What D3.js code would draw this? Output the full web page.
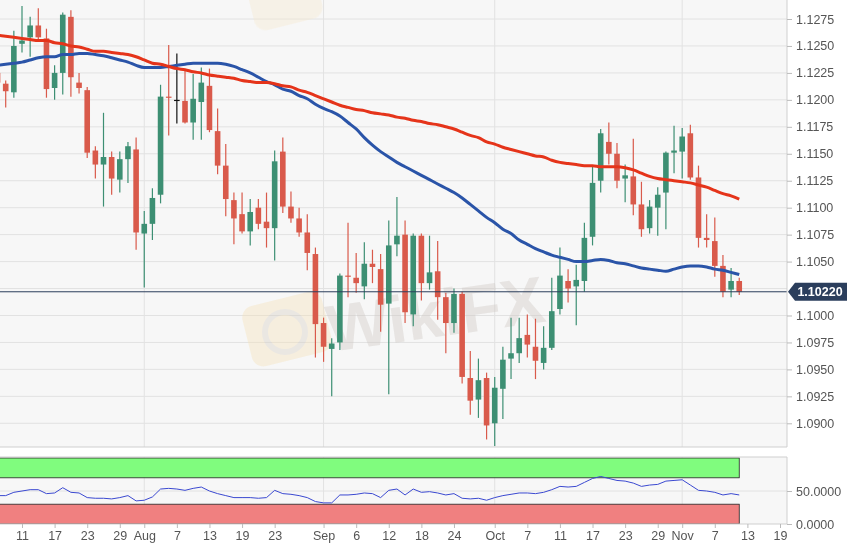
<!DOCTYPE html>
<meta charset="utf-8">
<script src="https://d3js.org/d3.v7.min.js"></script>
<style>
  body { margin: 0; background: #fff; }
  text { font-family: "Liberation Sans", Arial, sans-serif; }
</style>
<body>
<div id="canvas"></div>
<script>

// EUR/USD daily, 8 Jul 2019 .. 12 Nov 2019 (one entry per trading day)
var dates = ["07-08","07-09","07-10",
  "07-11","07-12","07-15","07-16","07-17","07-18","07-19","07-22","07-23","07-24",
  "07-25","07-26","07-29","07-30","07-31","08-01","08-02","08-05","08-06","08-07",
  "08-08","08-09","08-12","08-13","08-14","08-15","08-16","08-19","08-20","08-21",
  "08-22","08-23","08-26","08-27","08-28","08-29","08-30","09-02","09-03","09-04",
  "09-05","09-06","09-09","09-10","09-11","09-12","09-13","09-16","09-17","09-18",
  "09-19","09-20","09-23","09-24","09-25","09-26","09-27","09-30","10-01","10-02",
  "10-03","10-04","10-07","10-08","10-09","10-10","10-11","10-14","10-15","10-16",
  "10-17","10-18","10-21","10-22","10-23","10-24","10-25","10-28","10-29","10-30",
  "10-31","11-01","11-04","11-05","11-06","11-07","11-08","11-11","11-12"];

var opens = [1.1225,1.1215,1.1207,
  1.1252,1.1258,1.1269,1.1257,1.1211,1.1225,1.1277,1.1216,1.1209,1.1153,
  1.1140,1.1147,1.1126,1.1145,1.1154,1.1076,1.1085,1.1112,1.1203,1.1200,
  1.1199,1.1179,1.1198,1.1213,1.1171,1.1139,1.1107,1.1094,1.1078,1.1100,
  1.1087,1.1081,1.1152,1.1101,1.1090,1.1077,1.1057,1.0993,1.0969,1.0975,
  1.1037,1.1035,1.1027,1.1048,1.1043,1.1011,1.1066,1.1075,1.1001,1.1074,
  1.1030,1.1041,1.1017,1.0993,1.1020,1.0942,1.0922,1.0942,1.0900,1.0932,
  1.0960,1.0965,1.0982,1.0971,1.0956,1.0970,1.1006,1.1032,1.1027,1.1032,
  1.1073,1.1125,1.1161,1.1150,1.1127,1.1129,1.1103,1.1081,1.1100,1.1114,
  1.1151,1.1152,1.1169,1.1128,1.1072,1.1069,1.1046,1.1024,1.1032];

var highs = [1.1230,1.1218,1.1264,
  1.1287,1.1277,1.1285,1.1266,1.1232,1.1281,1.1283,1.1225,1.1212,1.1157,
  1.1188,1.1152,1.1152,1.1161,1.1165,1.1097,1.1118,1.1214,1.1251,1.1243,
  1.1228,1.1224,1.1230,1.1229,1.1192,1.1159,1.1114,1.1114,1.1108,1.1108,
  1.1114,1.1153,1.1165,1.1115,1.1100,1.1094,1.1063,1.0998,1.0979,1.1039,
  1.1086,1.1058,1.1068,1.1061,1.1057,1.1088,1.1110,1.1088,1.1076,1.1076,
  1.1074,1.1069,1.1021,1.1025,1.1022,1.0967,1.0960,1.0947,1.0943,1.0971,
  1.0998,1.0998,1.1001,1.0997,1.0990,1.1035,1.1063,1.1043,1.1047,1.1086,
  1.1138,1.1173,1.1179,1.1160,1.1140,1.1164,1.1124,1.1107,1.1119,1.1152,
  1.1176,1.1174,1.1177,1.1139,1.1094,1.1091,1.1056,1.1044,1.1035];

var lows = [1.1207,1.1193,1.1202,
  1.1244,1.1240,1.1256,1.1202,1.1200,1.1205,1.1203,1.1206,1.1146,1.1127,
  1.1101,1.1112,1.1114,1.1123,1.1061,1.1026,1.1070,1.1104,1.1167,1.1178,
  1.1178,1.1163,1.1163,1.1170,1.1131,1.1092,1.1066,1.1076,1.1065,1.1080,
  1.1063,1.1051,1.1095,1.1086,1.1073,1.1042,1.0961,1.0957,1.0925,1.0968,
  1.1017,1.1021,1.1015,1.1030,1.0985,1.0927,1.1055,1.0993,1.0990,1.1014,
  1.1024,1.0996,1.0965,1.0984,1.0937,1.0908,1.0905,1.0885,1.0879,1.0904,
  1.0941,1.0956,1.0961,1.0941,1.0950,1.0968,1.1001,1.1012,1.0991,1.1022,
  1.1065,1.1114,1.1140,1.1118,1.1105,1.1093,1.1073,1.1076,1.1074,1.1080,
  1.1132,1.1127,1.1126,1.1063,1.1063,1.1036,1.1017,1.1017,1.1019];

var closes = [1.1216,1.1208,1.1250,
  1.1255,1.1269,1.1258,1.1210,1.1225,1.1279,1.1221,1.1211,1.1151,1.1140,
  1.1147,1.1127,1.1145,1.1157,1.1077,1.1085,1.1109,1.1203,1.1202,1.1200,
  1.1179,1.1201,1.1216,1.1172,1.1139,1.1108,1.1090,1.1078,1.1096,1.1085,
  1.1081,1.1143,1.1101,1.1090,1.1077,1.1058,1.0992,1.0971,1.0974,1.1037,
  1.1036,1.1030,1.1048,1.1045,1.1010,1.1065,1.1074,1.1003,1.1074,1.1030,
  1.1040,1.1017,1.0993,1.1020,1.0943,1.0921,1.0940,1.0898,1.0933,1.0959,
  1.0965,1.0979,1.0973,1.0958,1.0970,1.1004,1.1037,1.1025,1.1033,1.1072,
  1.1123,1.1169,1.1150,1.1125,1.1130,1.1103,1.1080,1.1101,1.1112,1.1151,
  1.1153,1.1166,1.1128,1.1072,1.1070,1.1046,1.1022,1.1032,1.1022];

// moving averages (blue = faster, red = slower)
var maFast = [1.1232,1.1233,1.1234,
  1.1235,1.1237,1.1239,1.1240,1.1240,1.1242,1.1242,1.1243,1.1243,1.1242,
  1.1241,1.1239,1.1237,1.1235,1.1232,1.1230,1.1230,1.1230,1.1231,1.1232,
  1.1233,1.1234,1.1234,1.1234,1.1234,1.1233,1.1231,1.1228,1.1225,1.1221,
  1.1217,1.1214,1.1210,1.1208,1.1204,1.1201,1.1196,1.1192,1.1189,1.1185,
  1.1179,1.1173,1.1165,1.1158,1.1152,1.1147,1.1142,1.1138,1.1134,1.1130,
  1.1126,1.1122,1.1118,1.1114,1.1109,1.1103,1.1097,1.1091,1.1086,1.1080,
  1.1076,1.1070,1.1066,1.1062,1.1059,1.1056,1.1054,1.1052,1.1050,1.1050,
  1.1051,1.1052,1.1051,1.1049,1.1048,1.1046,1.1044,1.1043,1.1042,1.1041,
  1.1043,1.1045,1.1046,1.1046,1.1045,1.1043,1.1042,1.1040,1.1038];

var maSlow = [1.1260,1.1259,1.1258,
  1.1257,1.1256,1.1255,1.1255,1.1253,1.1252,1.1250,1.1249,1.1247,1.1245,
  1.1245,1.1244,1.1243,1.1242,1.1240,1.1237,1.1234,1.1233,1.1231,1.1229,
  1.1228,1.1226,1.1225,1.1223,1.1222,1.1221,1.1220,1.1218,1.1217,1.1216,
  1.1216,1.1215,1.1213,1.1212,1.1209,1.1207,1.1204,1.1201,1.1198,1.1195,
  1.1193,1.1191,1.1190,1.1188,1.1187,1.1186,1.1184,1.1183,1.1181,1.1180,
  1.1178,1.1177,1.1175,1.1173,1.1170,1.1167,1.1165,1.1161,1.1159,1.1156,
  1.1154,1.1152,1.1150,1.1148,1.1147,1.1144,1.1142,1.1141,1.1140,1.1139,
  1.1139,1.1138,1.1138,1.1138,1.1137,1.1135,1.1132,1.1129,1.1127,1.1126,
  1.1125,1.1124,1.1123,1.1121,1.1119,1.1116,1.1113,1.1111,1.1108];

// oscillator in the lower panel
var rsi = [43,43,48,
  50,52,52,46,47,55,48,47,40,39,
  39,38,40,43,35,36,41,53,54,53,
  51,54,56,50,46,43,40,40,40,39,
  40,51,46,45,43,40,34,32,32,44,
  44,45,47,46,40,51,53,44,53,48,
  49,47,44,46,39,38,39,36,40,43,
  45,47,47,46,48,52,57,56,57,63,
  69,72,69,66,65,62,57,59,60,65,
  66,67,59,51,50,48,44,46,44];

var firstDay = -3;            // 8 Jul sits three trading days before 11 Jul
var lastPrice = 1.10220;

var priceTicks = [1.0900,1.0925,1.0950,1.0975,1.1000,1.1025,1.1050,1.1075,
                  1.1100,1.1125,1.1150,1.1175,1.1200,1.1225,1.1250,1.1275];
var rsiTicks = [0, 50];
var dayTicks = [0,4,8,12,15,19,23,27,31,37,41,45,49,53,58,62,66,70,74,78,81,85,89,93];
var dayLabels = ["11","17","23","29","Aug","7","13","19","23","Sep","6","12","18","24",
                 "Oct","7","11","17","23","29","Nov","7","13","19"];
var monthStarts = [15,37,58,81];
var rsiBands = [{lo:70, hi:100, fill:"#80fc7e"}, {lo:0, hi:30, fill:"#f08080"}];

var W = 847, H = 550;
var plotR = 787;
var mainTop = 0, mainBot = 447;
var subTop = 457, subBot = 524;

var candles = dates.map(function(d, i) {
  return {day: firstDay + i, o: opens[i], h: highs[i], l: lows[i], c: closes[i],
          fast: maFast[i], slow: maSlow[i], rsi: rsi[i]};
});

var svg = d3.select("#canvas").append("svg")
  .attr("width", W).attr("height", H)
  .style("display", "block");

var x = d3.scaleLinear().domain([0, 93]).range([22, 780]);
var y = d3.scaleLinear().domain([1.0900, 1.1275]).range([423.3, 19]);
var yr = d3.scaleLinear().domain([0, 100]).range([subBot, subTop + 1]);

svg.append("clipPath").attr("id", "clipMain")
  .append("rect").attr("x", 0).attr("y", mainTop).attr("width", plotR).attr("height", mainBot - mainTop);
svg.append("clipPath").attr("id", "clipSub")
  .append("rect").attr("x", 0).attr("y", subTop).attr("width", plotR).attr("height", subBot - subTop);

// panel backgrounds
svg.append("rect").attr("x", 0).attr("y", mainTop).attr("width", plotR).attr("height", mainBot - mainTop)
  .attr("fill", "#f7f7f7");
svg.append("rect").attr("x", 0).attr("y", subTop).attr("width", plotR).attr("height", subBot - subTop)
  .attr("fill", "#f7f7f7");

var main = svg.append("g").attr("clip-path", "url(#clipMain)");
var sub = svg.append("g").attr("clip-path", "url(#clipSub)");

// grid
main.selectAll(".hg").data(priceTicks).enter().append("line")
  .attr("x1", 0).attr("x2", plotR)
  .attr("y1", function(d){ return y(d); }).attr("y2", function(d){ return y(d); })
  .attr("stroke", "#e2e2e2");
main.selectAll(".vg").data(monthStarts).enter().append("line")
  .attr("x1", function(d){ return x(d); }).attr("x2", function(d){ return x(d); })
  .attr("y1", mainTop).attr("y2", mainBot)
  .attr("stroke", "#e2e2e2");
sub.selectAll(".vg").data(monthStarts).enter().append("line")
  .attr("x1", function(d){ return x(d); }).attr("x2", function(d){ return x(d); })
  .attr("y1", subTop).attr("y2", subBot)
  .attr("stroke", "#e2e2e2");
sub.append("line").attr("x1", 0).attr("x2", plotR)
  .attr("y1", yr(50)).attr("y2", yr(50)).attr("stroke", "#e2e2e2");

// watermark
var wm = main.append("g").attr("opacity", 0.4);
wm.append("rect").attr("x", 246).attr("y", 298).attr("width", 82).attr("height", 62).attr("rx", 12)
  .attr("fill", "#f6e2b8").attr("transform", "rotate(-14 287 329)");
wm.append("circle").attr("cx", 285).attr("cy", 332).attr("r", 20)
  .attr("fill", "none").attr("stroke", "#d8cfc4").attr("stroke-width", 6);
wm.append("text").attr("x", 330).attr("y", 352).attr("font-size", 66).attr("font-weight", "bold")
  .attr("fill", "#cfc9c4").attr("transform", "rotate(-8 330 352)").text("WikiFX");
wm.append("rect").attr("x", 250).attr("y", -30).attr("width", 70).attr("height", 55).attr("rx", 12)
  .attr("fill", "#f6e9cf").attr("transform", "rotate(-14 285 0)");

// candles
var bull = "#3d8f73", bear = "#d95a4b";
function col(d) { return d.c > d.o ? bull : (d.c < d.o ? bear : "#111"); }

var cg = main.selectAll(".candle").data(candles).enter().append("g");
cg.append("line")
  .attr("x1", function(d){ return x(d.day); }).attr("x2", function(d){ return x(d.day); })
  .attr("y1", function(d){ return y(d.h); }).attr("y2", function(d){ return y(d.l); })
  .attr("stroke", col).attr("stroke-width", 1.2);
cg.append("rect")
  .attr("x", function(d){ return x(d.day) - 2.8; })
  .attr("width", 5.6)
  .attr("y", function(d){ return y(Math.max(d.o, d.c)); })
  .attr("height", function(d){ return Math.max(1.2, Math.abs(y(d.o) - y(d.c))); })
  .attr("fill", col);

// moving averages
var lineSlow = d3.line().x(function(d){ return x(d.day); }).y(function(d){ return y(d.slow); }).curve(d3.curveMonotoneX);
var lineFast = d3.line().x(function(d){ return x(d.day); }).y(function(d){ return y(d.fast); }).curve(d3.curveMonotoneX);
main.append("path").attr("d", lineFast(candles)).attr("fill", "none")
  .attr("stroke", "#2a54a8").attr("stroke-width", 3);
main.append("path").attr("d", lineSlow(candles)).attr("fill", "none")
  .attr("stroke", "#e5341a").attr("stroke-width", 3);

// last price line
main.append("line").attr("x1", 0).attr("x2", plotR)
  .attr("y1", y(lastPrice)).attr("y2", y(lastPrice))
  .attr("stroke", "#2b3e5c").attr("stroke-width", 1);

// oscillator bands and line
var lastX = x(candles[candles.length - 1].day);
rsiBands.forEach(function(b) {
  sub.append("rect").attr("x", -2).attr("width", lastX + 2)
    .attr("y", yr(b.hi)).attr("height", yr(b.lo) - yr(b.hi))
    .attr("fill", b.fill).attr("stroke", "#222").attr("stroke-width", 0.8);
});
var lineRsi = d3.line().x(function(d){ return x(d.day); }).y(function(d){ return yr(d.rsi); });
sub.append("path").attr("d", lineRsi(candles)).attr("fill", "none")
  .attr("stroke", "#3a48d0").attr("stroke-width", 1);

// panel borders
svg.append("path").attr("d", "M0," + mainBot + "H" + plotR + "V" + mainTop)
  .attr("fill", "none").attr("stroke", "#cfcfcf");
svg.append("path").attr("d", "M0," + subTop + "H" + plotR + "V" + subBot + "H0")
  .attr("fill", "none").attr("stroke", "#cfcfcf");

// axes (the price tag hides the label that sits under it)
var ty = y(lastPrice);
var shownTicks = priceTicks.filter(function(d){ return Math.abs(y(d) - ty) > 12; });
var yAxis = svg.append("g").attr("transform", "translate(" + plotR + ",0)")
  .call(d3.axisRight(y).tickValues(shownTicks).tickFormat(d3.format(".4f")).tickSize(5).tickPadding(4));
var rAxis = svg.append("g").attr("transform", "translate(" + plotR + ",0)")
  .call(d3.axisRight(yr).tickValues(rsiTicks).tickFormat(d3.format(".4f")).tickSize(5).tickPadding(4));
var xAxis = svg.append("g").attr("transform", "translate(0," + subBot + ")")
  .call(d3.axisBottom(x).tickValues(dayTicks)
    .tickFormat(function(d, i){ return dayLabels[i]; }).tickSize(4).tickPadding(3));

[yAxis, rAxis, xAxis].forEach(function(a) {
  a.select(".domain").remove();
  a.selectAll(".tick line").attr("stroke", "#bbb");
  a.selectAll(".tick text").attr("fill", "#555").attr("font-size", 12.5)
    .style("font-family", "'Liberation Sans', Arial, sans-serif");
});

// last price tag
svg.append("path")
  .attr("d", "M" + (plotR + 1) + "," + ty + "L" + (plotR + 8) + "," + (ty - 9) + "H" + W + "V" + (ty + 9) + "H" + (plotR + 8) + "Z")
  .attr("fill", "#2b3e5c");
svg.append("text").attr("x", 820).attr("y", ty + 4.5).attr("text-anchor", "middle")
  .attr("fill", "#fff").attr("font-size", 12.5).attr("font-weight", "bold")
  .text(d3.format(".5f")(lastPrice));

</script>
</body>
